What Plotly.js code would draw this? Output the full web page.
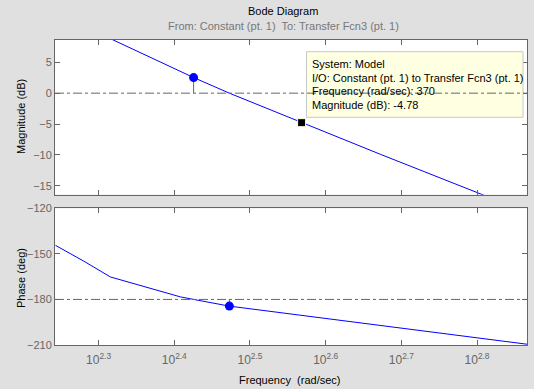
<!DOCTYPE html>
<html>
<head>
<meta charset="utf-8">
<script src="https://cdn.plot.ly/plotly-3.0.1.min.js"></script>
<style>html,body{margin:0;padding:0;background:#E0E0E0;}#chart{width:534px;height:389px;}</style>
</head>
<body>
<div id="chart"></div>
<script>
// Magnitude response (rad/sec, dB)
var magFreq = [175, 210, 266.4, 297, 370, 470, 649, 735];
var magDb   = [13.0, 8.5, 2.53, 0, -4.78, -9.9, -16.7, -19.3];
// Phase response (rad/sec, deg)
var phaseFreq = [175, 190.6, 206.8, 221.9, 238.3, 255.8, 266.4, 297, 735];
var phaseDeg  = [-144.4, -154.7, -165.2, -169.5, -173.9, -178.3, -180, -184.4, -209.5];
// Stability margin markers
var gmFreq = 266.4, gmMag = 2.53;
var pmFreq = 297, pmPhase = -184.4;
// Data tip
var tipFreq = 370, tipMag = -4.78;
var tipLines = ["System: Model", "I/O: Constant (pt. 1) to Transfer Fcn3 (pt. 1)",
                "Frequency (rad/sec): 370", "Magnitude (dB): -4.78"];
// Ticks
var xTickExp = [2.3, 2.4, 2.5, 2.6, 2.7, 2.8];
var magTicks = [-15, -10, -5, 0, 5];
var phaseTicks = [-210, -180, -150, -120];

var xTickVals = xTickExp.map(function(e){return Math.pow(10, e);});
var xTickText = xTickExp.map(function(e){return "10<sup>" + e + "</sup>";});

var blue = "#0000FF", axc = "#666666";
var traces = [
  {x: magFreq, y: magDb, xaxis: "x", yaxis: "y", mode: "lines", line: {color: blue, width: 1}, hoverinfo: "skip"},
  {x: phaseFreq, y: phaseDeg, xaxis: "x2", yaxis: "y2", mode: "lines", line: {color: blue, width: 1}, hoverinfo: "skip"},
  {x: [gmFreq, gmFreq], y: [gmMag, 0], xaxis: "x", yaxis: "y", mode: "lines", line: {color: axc, width: 1}},
  {x: [pmFreq, pmFreq], y: [pmPhase, -180], xaxis: "x2", yaxis: "y2", mode: "lines", line: {color: axc, width: 1}},
  {x: [gmFreq], y: [gmMag], xaxis: "x", yaxis: "y", mode: "markers", marker: {color: blue, size: 9}},
  {x: [pmFreq], y: [pmPhase], xaxis: "x2", yaxis: "y2", mode: "markers", marker: {color: blue, size: 9}},
  {x: [tipFreq], y: [tipMag], xaxis: "x", yaxis: "y", mode: "markers", marker: {color: "#000000", symbol: "square", size: 8, line: {color: "#FFFFE1", width: 1}}}
];

var L = 55, R = 7, T = 40, B = 44, W = 534, H = 389;
var pw = W - L - R, ph = H - T - B;
function px(x){return (x - L) / pw;}
function py(y){return (H - B - y) / ph;}

var xbase = {
  type: "log", range: [2.2424, 2.866], showgrid: false, zeroline: false,
  showline: true, linecolor: axc, linewidth: 1, mirror: "ticks",
  ticks: "inside", ticklen: 5, tickcolor: axc, tickvals: xTickVals, ticktext: xTickText,
  ticklabelstandoff: 4,
  tickfont: {family: "Liberation Sans, Arial, sans-serif", size: 12, color: axc}
};
var ybase = {
  showgrid: false, zeroline: false, showline: true, linecolor: axc, linewidth: 1,
  mirror: "ticks", ticks: "inside", ticklen: 5, tickcolor: axc,
  tickfont: {family: "Liberation Sans, Arial, sans-serif", size: 11, color: axc}
};

var annFont = {family: "Liberation Sans, Arial, sans-serif", size: 11, color: "#000"};
var annotations = [
  {text: "Bode Diagram", x: px(283), y: py(11), xref: "paper", yref: "paper", showarrow: false, xanchor: "center", yanchor: "middle", font: annFont},
  {text: "From: Constant (pt. 1)  To: Transfer Fcn3 (pt. 1)", x: px(283), y: py(26), xref: "paper", yref: "paper", showarrow: false, xanchor: "center", yanchor: "middle", font: {family: annFont.family, size: 11, color: "#777"}},
  {text: "Frequency  (rad/sec)", x: px(289), y: py(380), xref: "paper", yref: "paper", showarrow: false, xanchor: "center", yanchor: "middle", font: annFont},
  {text: "Magnitude (dB)", x: px(21), y: py(117), xref: "paper", yref: "paper", showarrow: false, textangle: -90, xanchor: "center", yanchor: "middle", font: annFont},
  {text: "Phase (deg)", x: px(21), y: py(278), xref: "paper", yref: "paper", showarrow: false, textangle: -90, xanchor: "center", yanchor: "middle", font: annFont}
];
var tipY = [64, 77.7, 91.2, 104.5];
tipLines.forEach(function(t, i){
  annotations.push({text: t, x: px(310), y: py(tipY[i]), xref: "paper", yref: "paper", showarrow: false, xanchor: "left", yanchor: "middle", font: annFont});
});

var shapes = [
  {type: "rect", xref: "paper", yref: "paper", x0: px(306.5), x1: px(523), y0: py(117.3), y1: py(51.7), fillcolor: "#FFFFE1", line: {color: "#C8C8C8", width: 1}, layer: "above"},
  {type: "line", xref: "paper", yref: "y", x0: 0, x1: 1, y0: 0, y1: 0, line: {color: axc, width: 1, dash: "dashdot"}, layer: "above"},
  {type: "line", xref: "paper", yref: "y2", x0: 0, x1: 1, y0: -180, y1: -180, line: {color: axc, width: 1, dash: "dashdot"}, layer: "above"}
];

var layout = {
  width: W, height: H, margin: {l: L, r: R, t: T, b: B},
  paper_bgcolor: "#E0E0E0", plot_bgcolor: "#FFFFFF", showlegend: false,
  xaxis: Object.assign({}, xbase, {anchor: "y", domain: [0, 1], showticklabels: false}),
  xaxis2: Object.assign({}, xbase, {anchor: "y2", domain: [0, 1], matches: "x"}),
  yaxis: Object.assign({}, ybase, {anchor: "x", domain: [py(194.7), 1], range: [-16.46, 8.62], tickvals: magTicks}),
  yaxis2: Object.assign({}, ybase, {anchor: "x2", domain: [0, py(208.3)], range: [-210, -120], tickvals: phaseTicks}),
  annotations: annotations, shapes: shapes, hovermode: false
};
Plotly.newPlot("chart", traces, layout, {displayModeBar: false, staticPlot: true});
</script>
</body>
</html>
